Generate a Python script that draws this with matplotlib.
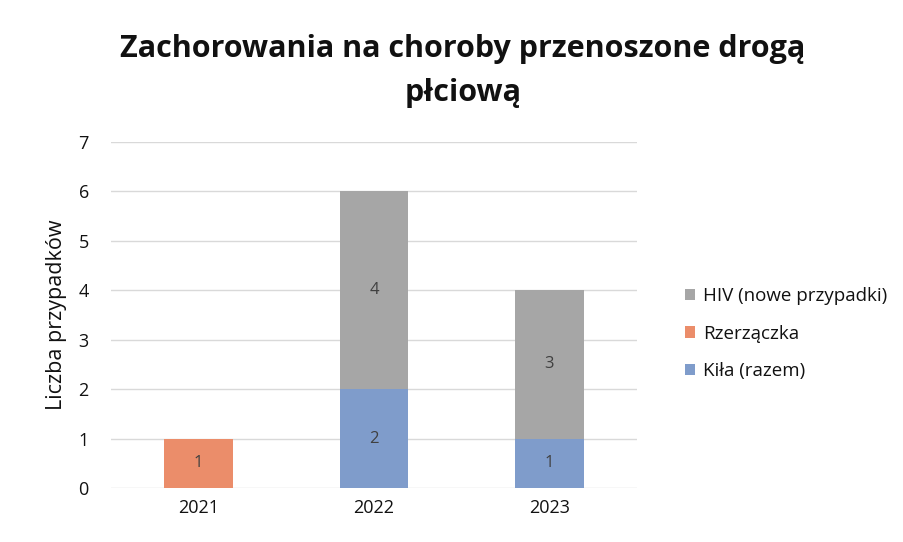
import matplotlib

matplotlib.use("Agg")
import matplotlib.pyplot as plt
import numpy as np

years = ["2021", "2022", "2023"]
kila = [0, 2, 1]
rzerzaczka = [1, 0, 0]
hiv = [0, 4, 3]

series = [
    ("Kiła (razem)", kila, "#7f9ccb"),
    ("Rzerzączka", rzerzaczka, "#eb8d6a"),
    ("HIV (nowe przypadki)", hiv, "#a6a6a6"),
]

plt.rcParams["font.family"] = ["Open Sans", "DejaVu Sans"]

fig = plt.figure(figsize=(9.04, 5.42), dpi=100)
ax = fig.add_axes([111 / 904, 1 - 488 / 542, 526 / 904, 346 / 542])

x = np.arange(len(years))
bottom = np.zeros(len(years))
handles = []
for name, vals, color in series:
    vals = np.array(vals, dtype=float)
    bars = ax.bar(x, vals, width=0.39, bottom=bottom, color=color, label=name, zorder=2)
    handles.append(bars)
    for xi, v, b in zip(x, vals, bottom):
        if v > 0:
            ax.text(xi, b + v / 2, f"{int(v)}", ha="center", va="center",
                    fontsize=12, color="#404040", zorder=3)
    bottom += vals

ax.set_xlim(-0.5, 2.5)
ax.set_ylim(0, 7)
ax.set_yticks(range(0, 8))
ax.set_xticks(x)
ax.set_xticklabels(years)
ax.tick_params(axis="both", length=0, labelsize=13, colors="#111111")
ax.tick_params(axis="y", pad=16)
ax.tick_params(axis="x", pad=8)
ax.grid(axis="y", color="#d9d9d9", linewidth=1, zorder=0)
for s in ax.spines.values():
    s.set_visible(False)

ax.set_ylabel("Liczba przypadków", fontsize=15.5, color="#111111", labelpad=8)

fig.suptitle("Zachorowania na choroby przenoszone drogą\npłciową",
             x=463 / 904, y=1 - 34 / 542, fontsize=22, fontweight="bold",
             color="#111111", linespacing=1.6)

leg = fig.legend(handles=handles[::-1], labels=[s[0] for s in series][::-1],
                 loc="upper left", bbox_to_anchor=(668 / 904, 1 - 270 / 542),
                 frameon=False, fontsize=13.5, handlelength=0.55, handleheight=0.55,
                 handletextpad=0.4, labelspacing=1.05)
for t in leg.get_texts():
    t.set_color("#111111")

fig.savefig("out.png", dpi=100, facecolor="white")
